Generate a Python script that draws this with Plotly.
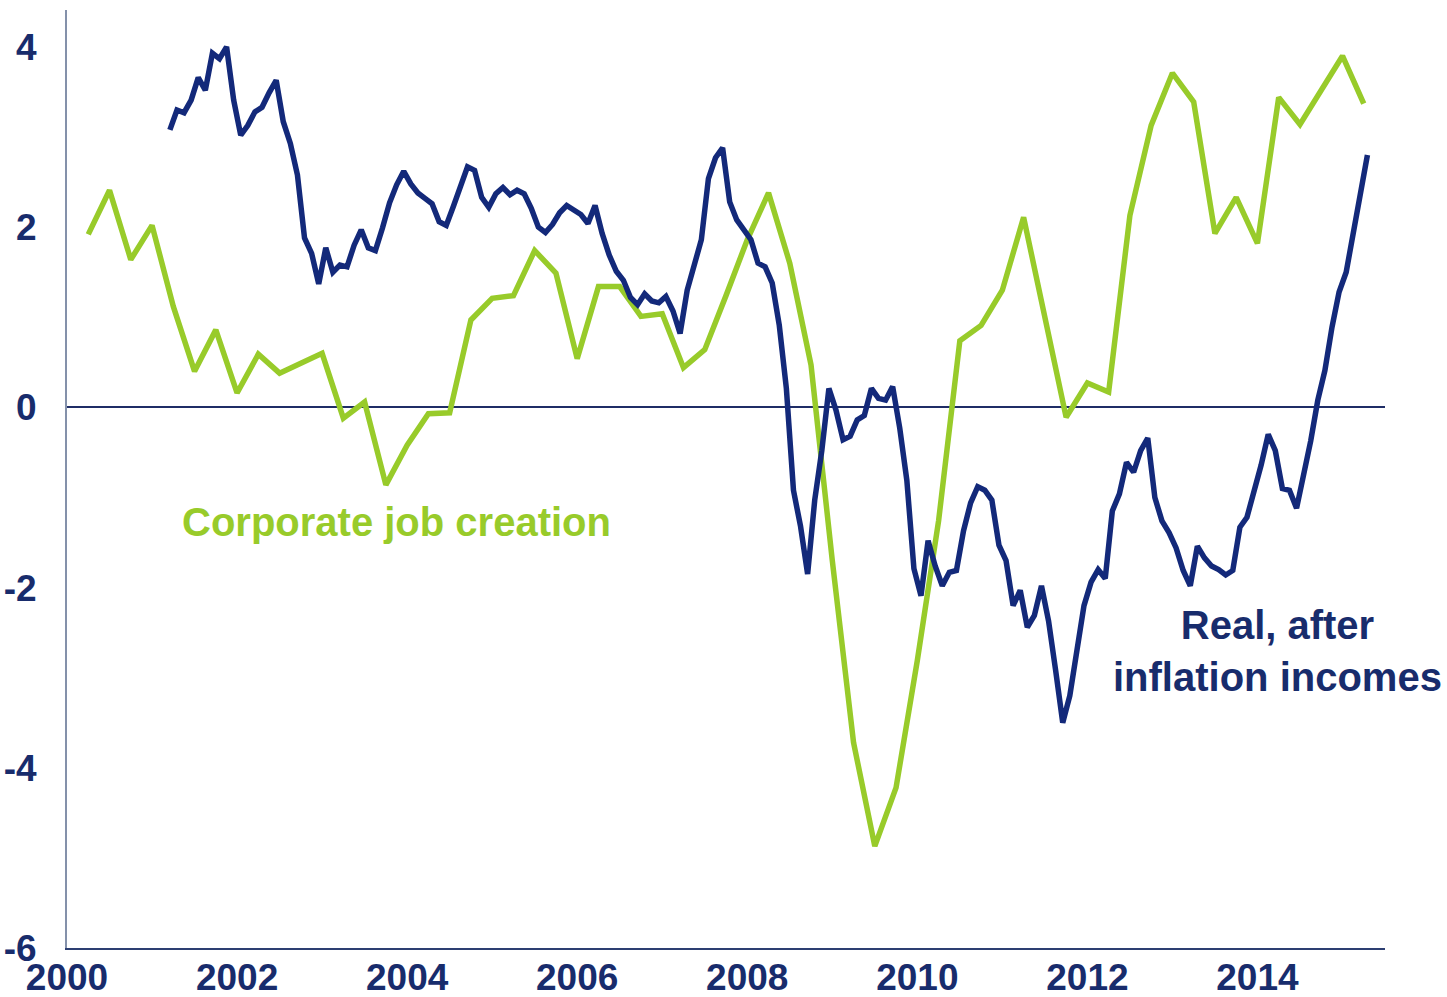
import plotly.graph_objects as go

# Corporate job creation, % y/y, quarterly from 2000 Q2
green_start = 2000.25
green_values = [
    1.92, 2.41, 1.64, 2.02, 1.12, 0.40, 0.86, 0.16, 0.59, 0.38,
    0.49, 0.60, -0.12, 0.06, -0.86, -0.42, -0.07, -0.06, 0.97, 1.21,
    1.24, 1.74, 1.49, 0.54, 1.34, 1.34, 1.01, 1.04, 0.44, 0.64,
    1.24, 1.86, 2.38, 1.60, 0.47, -1.70, -3.72, -4.87, -4.22, -2.81,
    -1.26, 0.74, 0.91, 1.30, 2.11, 1.00, -0.11, 0.27, 0.17, 2.13,
    3.13, 3.71, 3.39, 1.93, 2.33, 1.82, 3.44, 3.14, 3.52, 3.90,
    3.37,
]

# Real, after-inflation incomes, % y/y, monthly from March 2001
blue_start = 2001.21
blue_values = [
    3.08, 3.30, 3.27, 3.41, 3.66, 3.52, 3.93, 3.87, 4.00, 3.41,
    3.02, 3.13, 3.28, 3.33, 3.49, 3.63, 3.17, 2.93, 2.58, 1.88,
    1.71, 1.37, 1.77, 1.50, 1.58, 1.56, 1.80, 1.97, 1.77, 1.74,
    1.99, 2.27, 2.47, 2.62, 2.48, 2.38, 2.32, 2.26, 2.06, 2.02,
    2.23, 2.44, 2.67, 2.63, 2.33, 2.22, 2.37, 2.44, 2.36, 2.41,
    2.37, 2.21, 2.00, 1.94, 2.03, 2.16, 2.24, 2.19, 2.14, 2.04,
    2.24, 1.93, 1.69, 1.51, 1.41, 1.22, 1.14, 1.26, 1.18, 1.16,
    1.23, 1.07, 0.82, 1.30, 1.61, 1.86, 2.54, 2.77, 2.88, 2.28,
    2.08, 1.97, 1.86, 1.60, 1.56, 1.38, 0.91, 0.21, -0.92, -1.32,
    -1.85, -1.03, -0.48, 0.21, -0.03, -0.36, -0.32, -0.14, -0.09, 0.21,
    0.10, 0.08, 0.23, -0.23, -0.81, -1.79, -2.09, -1.48, -1.76, -1.98,
    -1.83, -1.81, -1.37, -1.06, -0.88, -0.92, -1.03, -1.53, -1.70, -2.20,
    -2.03, -2.44, -2.31, -1.98, -2.37, -2.92, -3.50, -3.20, -2.70, -2.20,
    -1.94, -1.80, -1.90, -1.15, -0.96, -0.61, -0.72, -0.48, -0.34, -1.00,
    -1.26, -1.39, -1.56, -1.81, -1.98, -1.54, -1.67, -1.76, -1.80, -1.86,
    -1.81, -1.33, -1.22, -0.94, -0.64, -0.30, -0.48, -0.90, -0.92, -1.12,
    -0.76, -0.37, 0.08, 0.41, 0.89, 1.28, 1.50, 1.93, 2.42, 2.80,
]

x_ticks = [2000, 2002, 2004, 2006, 2008, 2010, 2012, 2014]
y_ticks = [-6, -4, -2, 0, 2, 4]

GREEN = "#98cb2a"
NAVY = "#13297a"
TEXT_NAVY = "#182c6c"
FONT = "Liberation Sans, Arial, sans-serif"

green_x = [green_start + i / 4 for i in range(len(green_values))]
blue_x = [blue_start + i / 12 for i in range(len(blue_values))]

fig = go.Figure()
fig.add_trace(go.Scatter(
    x=green_x, y=green_values, mode="lines",
    line=dict(color=GREEN, width=5.5), name="Corporate job creation",
))
fig.add_trace(go.Scatter(
    x=blue_x, y=blue_values, mode="lines",
    line=dict(color=NAVY, width=5.5), name="Real, after inflation incomes",
))

fig.add_annotation(
    x=2003.88, y=-1.27, xref="x", yref="y",
    text="Corporate job creation", showarrow=False,
    font=dict(family=FONT, size=40, color=GREEN, weight="bold"),
)
fig.add_annotation(
    x=2014.24, y=-2.70, xref="x", yref="y",
    text="Real, after<br>inflation incomes", showarrow=False, align="center",
    font=dict(family=FONT, size=40, color=TEXT_NAVY, weight="bold"),
)

fig.update_layout(
    width=1447, height=997,
    margin=dict(l=67, r=62, t=10, b=49),
    paper_bgcolor="white", plot_bgcolor="white",
    showlegend=False,
    font=dict(family=FONT, color=TEXT_NAVY),
)
fig.update_xaxes(
    range=[2000, 2015.5], tickmode="array", tickvals=x_ticks,
    ticktext=[str(t) for t in x_ticks],
    showgrid=False, zeroline=False, automargin=False,
    showline=True, linecolor="#2d3f72", linewidth=2,
    ticks="", tickfont=dict(family=FONT, size=37, color=TEXT_NAVY, weight="bold"),
    ticklabelstandoff=-4,
)
fig.update_yaxes(
    range=[-6, 4.41], tickmode="array", tickvals=y_ticks,
    ticktext=[str(t) for t in y_ticks],
    showgrid=False, automargin=False,
    zeroline=True, zerolinecolor="#1f2d66", zerolinewidth=1.5,
    showline=True, linecolor="#8491aa", linewidth=2,
    ticks="", tickfont=dict(family=FONT, size=37, color=TEXT_NAVY, weight="bold"),
    ticklabelstandoff=21,
)

fig.write_html("out.html")
